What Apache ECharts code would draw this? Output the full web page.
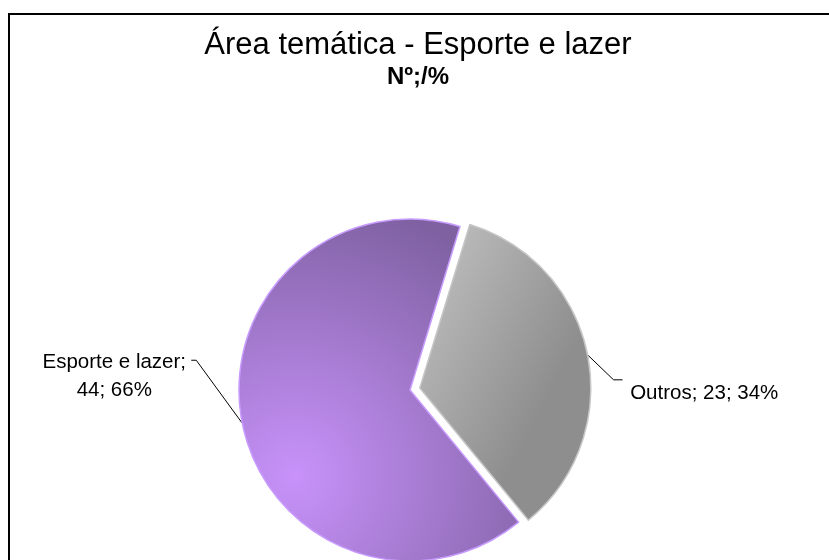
<!DOCTYPE html>
<html>
<head>
<meta charset="utf-8">
<script src="https://cdn.jsdelivr.net/npm/echarts@6/dist/echarts.min.js"></script>
<style>
html,body{margin:0;padding:0;background:#fff;}
#chart{width:829px;height:560px;}
</style>
</head>
<body>
<div id="chart"></div>
<script>
var titleText = 'Área temática - Esporte e lazer';
var subtitleText = 'Nº;/%';
var categories = ['Outros', 'Esporte e lazer'];
var values = [23, 44];

var chart = echarts.init(document.getElementById('chart'), null, {renderer: 'canvas'});

var colors = [
  {type: 'linear', x: 0, y: 0, x2: 1, y2: 0.3,
   colorStops: [{offset: 0, color: '#c4c4c4'}, {offset: 1, color: '#8e8e8e'}]},
  {type: 'radial', x: 0.2, y: 0.75, r: 1.0,
   colorStops: [{offset: 0, color: '#c892fa'}, {offset: 1, color: '#7f61a2'}]}
];
var borders = ['#c6c6c6', '#c89cff'];
var labelPads = [[0, 0, 0, 8], 0];

var data = categories.map(function (c, i) {
  return {
    name: c,
    value: values[i],
    selected: i === 0,
    itemStyle: {color: colors[i], borderColor: borders[i], borderWidth: 1.5},
    label: {padding: labelPads[i]}
  };
});

chart.setOption({
  animation: false,
  title: {
    text: titleText,
    subtext: subtitleText,
    left: 413,
    textAlign: 'center',
    top: 25,
    itemGap: 4,
    textStyle: {fontFamily: 'Liberation Sans', fontSize: 31, fontWeight: 'normal', color: '#000'},
    subtextStyle: {fontFamily: 'Liberation Sans', fontSize: 24, fontWeight: 'bold', color: '#000'}
  },
  graphic: [{
    type: 'rect',
    shape: {x: 9, y: 14, width: 840, height: 570},
    style: {fill: 'none', stroke: '#000', lineWidth: 2},
    silent: true
  }],
  series: [{
    type: 'pie',
    center: [410, 390],
    radius: 171,
    startAngle: 73,
    clockwise: true,
    selectedMode: 'single',
    selectedOffset: 10,
    percentPrecision: 0,
    data: data,
    label: {
      show: true,
      position: 'outside',
      fontFamily: 'Liberation Sans',
      fontSize: 20.5,
      lineHeight: 28,
      color: '#000',
      formatter: function (p) {
        if (p.dataIndex === 1) return p.name + ';\n' + p.value + '; ' + p.percent + '%';
        return '\n\n\n' + p.name + '; ' + p.value + '; ' + p.percent + '%';
      }
    },
    labelLine: {show: true, length: 20, length2: 10, lineStyle: {color: '#000', width: 1}},
    labelLayout: function (params) {
      var p = params.labelLinePoints;
      if (!p) return {};
      var x0 = p[0][0], y0 = p[0][1];
      if (params.dataIndex === 0) {
        return {
          labelLinePoints: [[x0, y0], [x0 + 26, y0 + 25], [x0 + 35, y0 + 25]]
        };
      }
      return {
        x: x0 - 128, y: y0 - 47, align: 'center', verticalAlign: 'middle',
        labelLinePoints: [[x0, y0], [x0 - 46, y0 - 63], [x0 - 51, y0 - 63]]
      };
    },
    emphasis: {disabled: true}
  }]
});
</script>
</body>
</html>
